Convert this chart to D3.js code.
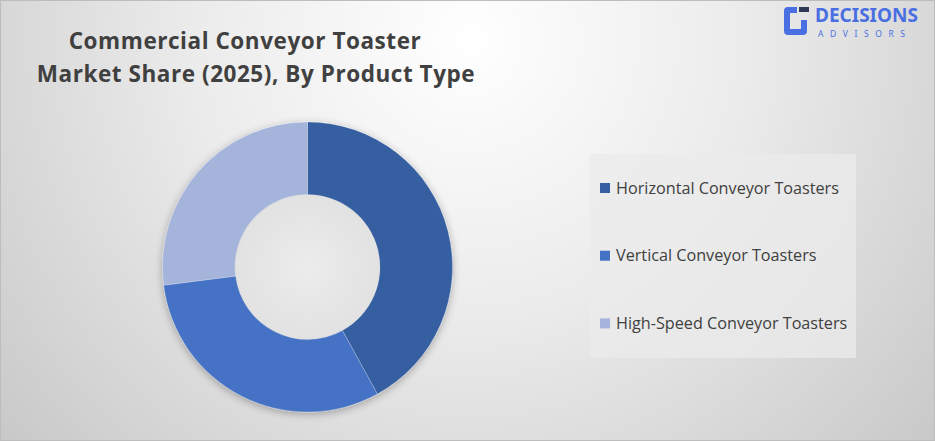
<!DOCTYPE html>
<html><head><meta charset="utf-8">
<script src="https://cdn.jsdelivr.net/npm/d3@7/dist/d3.min.js"></script>
<style>html,body{margin:0;padding:0;background:#fff;}svg{display:block;}</style>
</head><body>
<svg id="chart" width="935" height="441"></svg>
<script>
const categories = ["Horizontal Conveyor Toasters", "Vertical Conveyor Toasters", "High-Speed Conveyor Toasters"];
const values = [42, 31, 27];
const colors = ["#355EA1", "#4472C4", "#A5B4DB"];
const titleLines = ["Commercial Conveyor Toaster", "Market Share (2025), By Product Type"];

const W = 935, H = 441;
const svg = d3.select("#chart");
const defs = svg.append("defs");

const bg = defs.append("radialGradient").attr("id", "bg")
  .attr("gradientUnits", "userSpaceOnUse")
  .attr("cx", 470).attr("cy", 40).attr("r", 620);
bg.append("stop").attr("offset", "0").attr("stop-color", "#ffffff");
bg.append("stop").attr("offset", "0.45").attr("stop-color", "#ebebeb");
bg.append("stop").attr("offset", "1").attr("stop-color", "#c8c8c8");

const hole = defs.append("radialGradient").attr("id", "hole");
hole.append("stop").attr("offset", "0").attr("stop-color", "#ececec");
hole.append("stop").attr("offset", "1").attr("stop-color", "#e2e2e2");

const sh = defs.append("filter").attr("id", "shadow").attr("x", "-20%").attr("y", "-20%").attr("width", "140%").attr("height", "140%");
sh.append("feGaussianBlur").attr("in", "SourceAlpha").attr("stdDeviation", 4);
sh.append("feOffset").attr("dx", 0).attr("dy", 2).attr("result", "b");
sh.append("feComponentTransfer").append("feFuncA").attr("type", "linear").attr("slope", 0.3);
const mg = sh.append("feMerge");
mg.append("feMergeNode");
mg.append("feMergeNode").attr("in", "SourceGraphic");

svg.append("rect").attr("width", W).attr("height", H).attr("fill", "url(#bg)");
svg.append("rect").attr("x", 0.5).attr("y", 0.5).attr("width", W - 1).attr("height", H - 1)
  .attr("fill", "none").attr("stroke", "#bdbdbd");

// Title
const title = svg.append("text").attr("font-family", "'Open Sans', Lato, sans-serif")
  .attr("font-weight", 700).attr("font-size", 22.5).attr("letter-spacing", 0.55)
  .attr("fill", "#404040").attr("text-anchor", "middle");
title.selectAll("tspan").data(titleLines).join("tspan")
  .attr("x", (d, i) => i === 0 ? 245 : 256).attr("y", (d, i) => 49 + i * 32.5).text(d => d);

// Donut
const cx = 307.5, cy = 267, rOuter = 145, rInner = 72.5;
const pie = d3.pie().sort(null).value(d => d)(values);
const arc = d3.arc().innerRadius(rInner).outerRadius(rOuter);
const g = svg.append("g").attr("transform", `translate(${cx},${cy})`);
g.append("g").attr("filter", "url(#shadow)")
  .selectAll("path").data(pie).join("path")
  .attr("d", arc).attr("fill", (d, i) => colors[i])
  .attr("stroke", "#ffffff").attr("stroke-width", 0.4).attr("stroke-opacity", 0.6);
g.append("circle").attr("r", rInner - 0.5).attr("fill", "url(#hole)");

// Legend
const lg = svg.append("g");
lg.append("rect").attr("x", 590).attr("y", 154).attr("width", 266).attr("height", 204)
  .attr("fill", "#ebebeb").attr("opacity", 0.75);
const items = lg.selectAll("g.item").data(categories).join("g").attr("class", "item")
  .attr("transform", (d, i) => `translate(600,${188 + i * 67.7})`);
items.append("rect").attr("x", 0).attr("y", -5).attr("width", 10).attr("height", 10)
  .attr("fill", (d, i) => colors[i]);
items.append("text").attr("x", 16).attr("y", 5.5)
  .attr("font-family", "'Open Sans', 'Noto Sans', sans-serif").attr("font-size", 16.2)
  .attr("fill", "#404040").text(d => d);

// Logo
const logo = svg.append("g");
logo.append("path")
  .attr("d", "M797 7 L788 7 Q784 7 784 11 L784 31 Q784 35 788 35 L803 35 Q807 35 807 31 L807 20 L801 20 L801 29 L790 29 L790 13 L797 13 Z")
  .attr("fill", "#4a6fe3");
logo.append("rect").attr("x", 799).attr("y", 7).attr("width", 10).attr("height", 5).attr("fill", "#2f3b55");
logo.append("text").attr("x", 815).attr("y", 22).attr("font-family", "'Noto Sans', 'Open Sans', sans-serif")
  .attr("font-weight", 700).attr("font-size", 19).attr("fill", "#4a6fe3").text("DECISIONS");
logo.append("text").attr("x", 818).attr("y", 37).attr("font-family", "'Noto Sans', sans-serif")
  .attr("font-size", 8.5).attr("letter-spacing", 6.6).attr("fill", "#4a6fe3").text("ADVISORS");
</script>
</body></html>
